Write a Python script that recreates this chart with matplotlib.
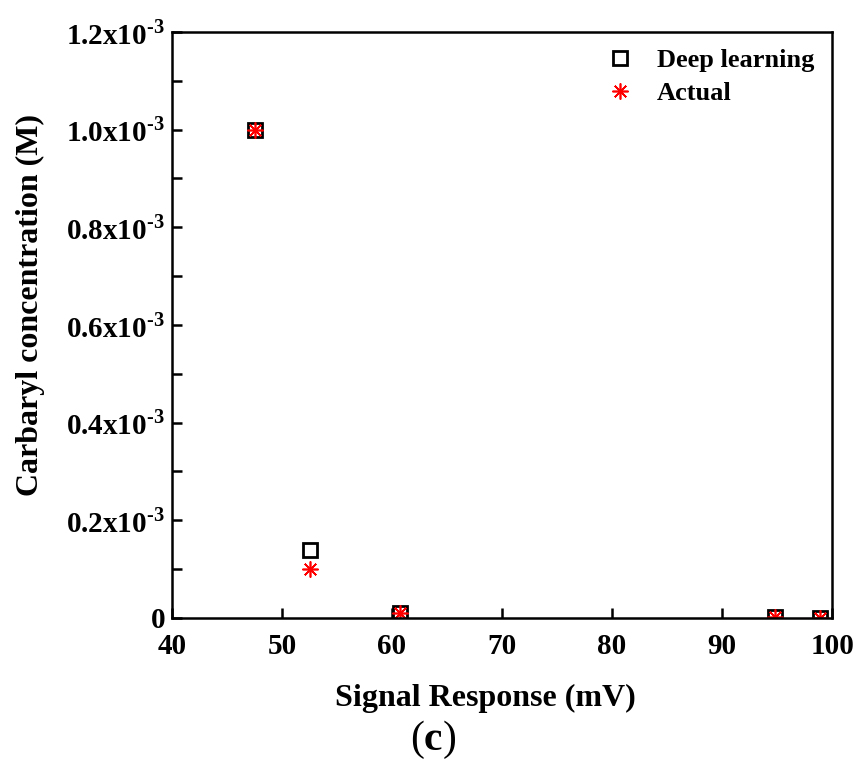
import numpy as np
import matplotlib
matplotlib.use('Agg')
from matplotlib import pyplot as plt
from matplotlib.ticker import FixedLocator, FixedFormatter, MultipleLocator

# data
signal_mv = [47.5, 52.5, 60.7, 94.8, 98.9]
deep_learning = [1.0e-3, 1.4e-4, 1.0e-5, 1.0e-6, 1.0e-7]
actual = [1.0e-3, 1.0e-4, 1.0e-5, 1.0e-6, 1.0e-7]
y_ticks = [0, 0.2e-3, 0.4e-3, 0.6e-3, 0.8e-3, 1.0e-3, 1.2e-3]
y_labels = ['0'] + ['%.1fx10$^{\\mathbf{\u2010 3}}$' % v for v in [0.2, 0.4, 0.6, 0.8, 1.0, 1.2]]

plt.rcParams['font.family'] = ['Liberation Serif', 'DejaVu Serif']
plt.rcParams['font.weight'] = 'bold'
plt.rcParams['mathtext.fontset'] = 'custom'
plt.rcParams['mathtext.rm'] = 'Liberation Serif'
plt.rcParams['mathtext.bf'] = 'Liberation Serif:bold'

fig = plt.figure(figsize=(8.57, 7.6), dpi=100)
ax = fig.add_axes([0.2007, 0.187, 0.7703, 0.771])

ax.plot(signal_mv, deep_learning, linestyle='none', marker='s', markersize=10,
        markerfacecolor='none', markeredgecolor='black', markeredgewidth=2,
        label='Deep learning')
ax.plot(signal_mv, actual, linestyle='none', marker=(8, 2, 0), markersize=11.5,
        color='red', markeredgewidth=1.2, label='Actual')

ax.set_xlim(40, 100)
ax.set_ylim(0, 1.2e-3)
ax.xaxis.set_major_locator(MultipleLocator(10))
ax.yaxis.set_major_locator(FixedLocator(y_ticks))
ax.yaxis.set_major_formatter(FixedFormatter(y_labels))
ax.yaxis.set_minor_locator(MultipleLocator(0.1e-3))

for s in ax.spines.values():
    s.set_linewidth(1.8)
ax.tick_params(which='both', direction='in', width=1.8, length=7, top=False,
               right=False, labelsize=21)
ax.tick_params(axis='x', pad=11)
ax.tick_params(axis='y', pad=5)
for lab in ax.get_xticklabels() + ax.get_yticklabels():
    lab.set_fontweight('bold')

ax.set_xlabel('Signal Response (mV)', fontsize=23, fontweight='bold', va='top')
ax.xaxis.set_label_coords(0.474, -0.112)
ax.set_ylabel('Carbaryl concentration (M)', fontsize=23, fontweight='bold')
ax.yaxis.set_label_coords(-0.192, 0.534)

leg = ax.legend(loc='upper left', bbox_to_anchor=(0.654, 0.971), frameon=False,
                fontsize=19, handletextpad=0.8, labelspacing=0.36, borderpad=0,
                borderaxespad=0, handlelength=1.2)
for t in leg.get_texts():
    t.set_fontweight('bold')

fig.text(0.505, 0.027, r'($\mathbf{c}$)', ha='center', va='center', fontsize=30,
         fontweight='normal')

fig.savefig('out.png', dpi=100)
